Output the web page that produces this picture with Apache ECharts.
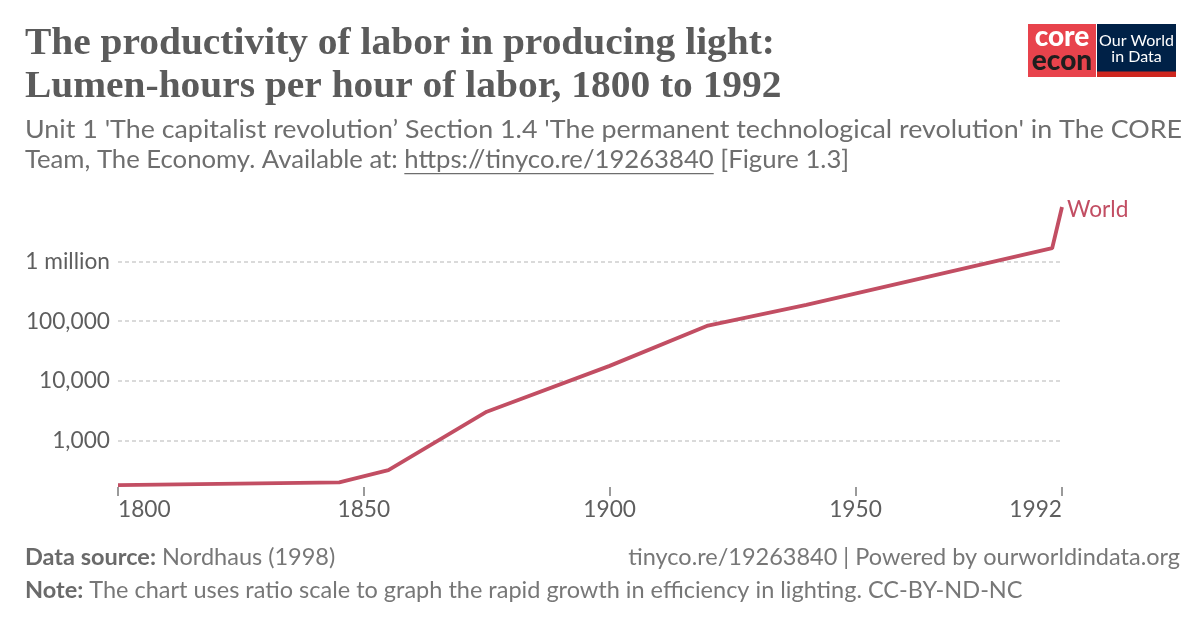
<!DOCTYPE html>
<html><head><meta charset="utf-8">
<script src="https://cdn.jsdelivr.net/npm/echarts@6/dist/echarts.min.js"></script>
<style>html,body{margin:0;padding:0;background:#fff}#c{width:1200px;height:628px}</style>
</head><body><div id="c"></div>
<script>
// ---- data ----
const years = [1800, 1845, 1855, 1875, 1900, 1920, 1940, 1990, 1992];
const lumenHours = [181, 201, 323, 3060, 17900, 84600, 188000, 1670000, 8170000];
const xTickLabels = [1800, 1850, 1900, 1950, 1992];
const yTickValues = [1000, 10000, 100000, 1000000];
const yTickLabels = ['1,000', '10,000', '100,000', '1 million'];
const seriesName = 'World';

const titleLines = ['The productivity of labor in producing light:', 'Lumen-hours per hour of labor, 1800 to 1992'];
const subLine1 = "Unit 1 'The capitalist revolution\u2019 Section 1.4 'The permanent technological revolution' in The CORE";
const subLine2a = 'Team, The Economy. Available at: ';
const subLine2url = 'https://tinyco.re/19263840';
const subLine2b = ' [Figure 1.3]';

const LINE = '#c24e63';
const SANS = 'Lato, "Noto Sans", sans-serif';
const SERIF = '"Liberation Serif", "DejaVu Serif", serif';

const cv = document.createElement('canvas').getContext('2d');
function tw(txt, font) { cv.font = font; return cv.measureText(txt).width; }

const titleFont = 'bold 38px ' + SERIF;
const titleScale = 750 / tw(titleLines[0], titleFont);
const subFont = '25.7px ' + SANS;
const sub1Scale = 1157 / tw(subLine1, subFont);
const subColor = '#6e6e6e';
const w2a = tw(subLine2a, subFont);
const wUrl = tw(subLine2url, subFont);
const AX = 22.7;
const FOOT = 23.5;

const chart = echarts.init(document.getElementById('c'), null, {renderer: 'canvas'});
const data = years.map((y, i) => [y, lumenHours[i]]);

function yLabel(v) {
  for (let i = 0; i < yTickValues.length; i++) {
    if (Math.abs(Math.log10(v) - Math.log10(yTickValues[i])) < 1e-6) return yTickLabels[i];
  }
  return '';
}

chart.setOption({
  animation: false,
  backgroundColor: '#fff',
  grid: {left: 118, right: 138, top: 207, bottom: 141},
  xAxis: {
    type: 'value', min: 1800, max: 1992, interval: 50,
    axisLine: {show: false},
    axisTick: {show: true, length: 9, lineStyle: {color: '#9a9a9a', width: 2}},
    splitLine: {show: false},
    axisLabel: {
      margin: 11, fontFamily: 'Lato', fontSize: AX, color: '#5e5e5e',
      alignMinLabel: 'left', alignMaxLabel: 'right',
      formatter: v => xTickLabels.indexOf(Math.round(v)) >= 0 ? String(Math.round(v)) : ''
    }
  },
  yAxis: {
    type: 'log', logBase: 10, min: 168, max: 8170000,
    axisLine: {show: false}, axisTick: {show: false},
    splitLine: {show: true, showMinLine: false, showMaxLine: false,
      lineStyle: {color: '#dadada', width: 2, type: [4, 3]}},
    axisLabel: {margin: 8, fontFamily: 'Lato', fontSize: AX, color: '#5e5e5e',
      showMinLabel: false, showMaxLabel: false, formatter: yLabel}
  },
  series: [{
    name: seriesName, type: 'line', data: data, symbol: 'none', smooth: false,
    lineStyle: {color: LINE, width: 3.8}, itemStyle: {color: LINE},
    endLabel: {show: true, formatter: seriesName, color: LINE, fontFamily: 'Lato', fontSize: AX, distance: 5, offset: [0, 3]}
  }],
  graphic: [
    {type: 'text', x: 25, y: 44, scaleX: titleScale, style: {text: titleLines[0], font: titleFont, fill: '#5b5b5b', verticalAlign: 'middle'}},
    {type: 'text', x: 25, y: 87, scaleX: titleScale, style: {text: titleLines[1], font: titleFont, fill: '#5b5b5b', verticalAlign: 'middle'}},
    {type: 'text', x: 25, y: 130, scaleX: sub1Scale, style: {text: subLine1, font: subFont, fill: subColor, verticalAlign: 'middle'}},
    {type: 'text', x: 25, y: 160, style: {text: subLine2a + subLine2url + subLine2b, font: subFont, fill: subColor, verticalAlign: 'middle'}},
    {type: 'rect', shape: {x: 25 + w2a, y: 173, width: wUrl, height: 1.3}, style: {fill: subColor}},
    // footer
    {type: 'text', x: 25, y: 557, style: {text: '{b|Data source:} Nordhaus (1998)', font: FOOT + 'px ' + SANS, fill: '#777', verticalAlign: 'middle',
      rich: {b: {fontWeight: 'bold', fontFamily: 'Lato', fontSize: FOOT, fill: '#6a6a6a'}}}},
    {type: 'text', x: 25, y: 590, style: {text: '{b|Note:} The chart uses ratio scale to graph the rapid growth in efficiency in lighting. CC-BY-ND-NC', font: FOOT + 'px ' + SANS, fill: '#777', verticalAlign: 'middle',
      rich: {b: {fontWeight: 'bold', fontFamily: 'Lato', fontSize: FOOT, fill: '#6a6a6a'}}}},
    {type: 'text', x: 1180, y: 557, style: {text: 'tinyco.re/19263840 | Powered by ourworldindata.org', font: FOOT + 'px ' + SANS, fill: '#777', align: 'right', verticalAlign: 'middle'}},
    // logos
    {type: 'rect', shape: {x: 1028, y: 24, width: 68, height: 53}, style: {fill: '#e8434c'}},
    {type: 'text', x: 1062, y: 37, style: {text: 'core', font: '900 28px Lato', fill: '#fff', align: 'center', verticalAlign: 'middle'}},
    {type: 'text', x: 1062, y: 61, style: {text: 'econ', font: '900 28px Lato', fill: '#1e1e1e', align: 'center', verticalAlign: 'middle'}},
    {type: 'rect', shape: {x: 1097, y: 24, width: 79, height: 53}, style: {fill: '#002147'}},
    {type: 'rect', shape: {x: 1097, y: 71.5, width: 79, height: 5.5}, style: {fill: '#ce261e'}},
    {type: 'text', x: 1136.5, y: 41, style: {text: 'Our World', font: '16px Lato', fill: '#fff', align: 'center', verticalAlign: 'middle'}},
    {type: 'text', x: 1136.5, y: 57, style: {text: 'in Data', font: '16px Lato', fill: '#fff', align: 'center', verticalAlign: 'middle'}}
  ]
});
</script></body></html>
